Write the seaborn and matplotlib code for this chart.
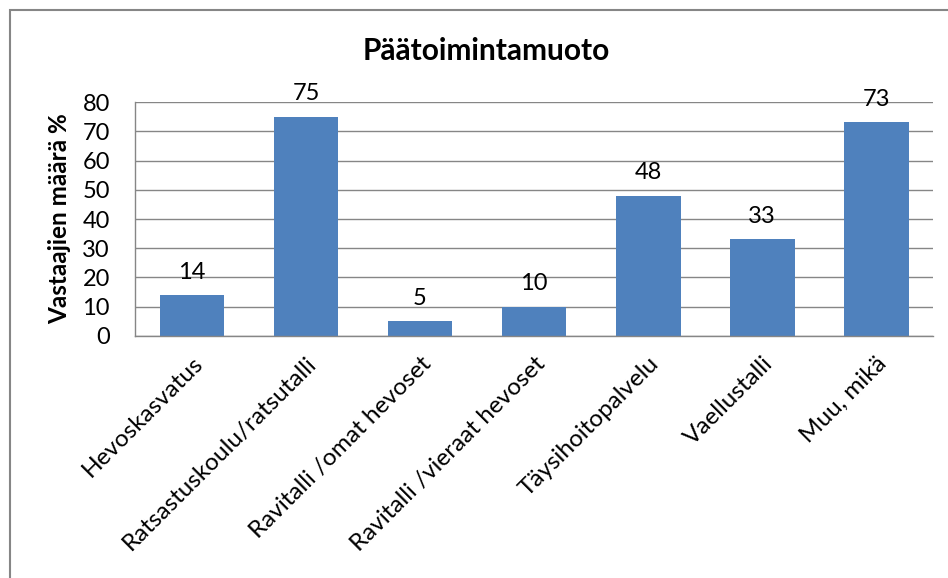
#!/usr/bin/env python3
# Päätoimintamuoto bar chart

import matplotlib
matplotlib.use('Agg')
import matplotlib.pyplot as plt
import pandas as pd
import seaborn as sns
from matplotlib.patches import Rectangle

# Data ==========================================================================

categories = [
    'Hevoskasvatus',
    'Ratsastuskoulu/ratsutalli',
    'Ravitalli /omat hevoset',
    'Ravitalli /vieraat hevoset',
    'Täysihoitopalvelu',
    'Vaellustalli',
    'Muu, mikä',
]
values = [14, 75, 5, 10, 48, 33, 73]
yticks = [0, 10, 20, 30, 40, 50, 60, 70, 80]


def main():
    sns.set_theme(style='white')
    plt.rcParams['font.family'] = ['Lato', 'DejaVu Sans']
    plt.rcParams['text.color'] = 'black'

    df = pd.DataFrame({'cat': categories, 'val': values})

    fig = plt.figure(figsize=(9.48, 5.78), dpi=100)
    ax = fig.add_axes([0.1424, 0.4187, 0.8418, 0.4048])
    sns.barplot(data=df, x='cat', y='val', color='#4F81BD', saturation=1,
                width=0.57, linewidth=0, ax=ax)

    ax.set_ylim(0, 80)
    ax.set_yticks(yticks)
    ax.yaxis.grid(True, color='#868686', linewidth=1)
    ax.set_axisbelow(True)
    for side in ('top', 'right'):
        ax.spines[side].set_visible(False)
    for side in ('left', 'bottom'):
        ax.spines[side].set_color('#868686')
        ax.spines[side].set_linewidth(1)
    ax.tick_params(axis='y', labelsize=17, length=0, pad=18,
                   labelcolor='black')
    ax.tick_params(axis='x', labelsize=17.5, length=0, pad=12,
                   labelcolor='black')
    plt.setp(ax.get_xticklabels(), rotation=45, ha='right',
             rotation_mode='anchor')

    ax.set_xlabel('')
    ax.set_ylabel('Vastaajien määrä %', fontsize=17.5, fontweight='bold',
                  color='black', labelpad=8)
    ax.set_title('Päätoimintamuoto', fontsize=21.5, fontweight='bold',
                 color='black', pad=30, x=0.44)

    for cont in ax.containers:
        ax.bar_label(cont, labels=[str(v) for v in values], fontsize=17,
                     padding=9, color='black')

    # outer chart border (only top and left visible)
    fig.patches.append(Rectangle(
        (10 / 948, -0.2), 1.2, 1 - 10 / 578 + 0.2,
        transform=fig.transFigure, fill=False, edgecolor='#868686',
        linewidth=1.5, figure=fig,
    ))

    fig.savefig('out.png', dpi=100)


if __name__ == '__main__':
    main()
